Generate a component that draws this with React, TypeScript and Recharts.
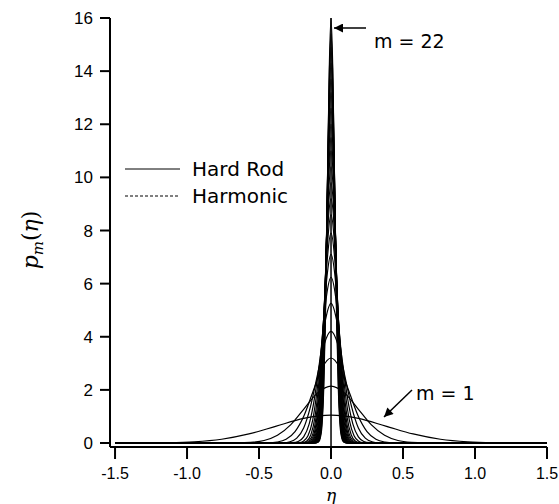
import { LineChart, Line, XAxis, YAxis, ReferenceLine } from 'recharts';

// m values of the curves (hard rod model)
const mValues = [1, 2, 3, 4, 5, 6, 7, 8, 9, 10, 11, 12, 13, 14, 15, 16, 17, 18, 19, 20, 21, 22];

// half profiles (eta >= 0); curves are symmetric about eta = 0
const etaHalf: number[][] = [
  [0, 0.19, 0.38, 0.57, 0.76, 0.95, 1.14, 1.33, 1.5],
  [0, 0.093, 0.186, 0.279, 0.372, 0.465, 0.558, 0.651, 0.837, 1.5],
  [0, 0.062, 0.125, 0.187, 0.25, 0.312, 0.375, 0.437, 0.562, 1.5],
  [0, 0.048, 0.095, 0.143, 0.19, 0.238, 0.285, 0.333, 0.428, 1.5],
  [0, 0.038, 0.076, 0.114, 0.152, 0.19, 0.228, 0.266, 0.342, 1.5],
  [0, 0.032, 0.064, 0.096, 0.128, 0.16, 0.192, 0.224, 0.288, 1.5],
  [0, 0.028, 0.056, 0.084, 0.112, 0.14, 0.168, 0.196, 0.252, 1.5],
  [0, 0.025, 0.05, 0.076, 0.101, 0.126, 0.152, 0.177, 0.227, 1.5],
  [0, 0.023, 0.046, 0.07, 0.093, 0.116, 0.139, 0.162, 0.209, 1.5],
  [0, 0.022, 0.043, 0.065, 0.087, 0.109, 0.13, 0.152, 0.195, 1.5],
  [0, 0.02, 0.041, 0.061, 0.081, 0.102, 0.122, 0.142, 0.183, 1.5],
  [0, 0.019, 0.038, 0.058, 0.077, 0.096, 0.115, 0.134, 0.173, 1.5],
  [0, 0.018, 0.036, 0.054, 0.073, 0.091, 0.109, 0.127, 0.163, 1.5],
  [0, 0.017, 0.035, 0.052, 0.069, 0.087, 0.104, 0.121, 0.156, 1.5],
  [0, 0.017, 0.033, 0.05, 0.066, 0.083, 0.1, 0.116, 0.149, 1.5],
  [0, 0.016, 0.032, 0.048, 0.063, 0.079, 0.095, 0.111, 0.143, 1.5],
  [0, 0.015, 0.03, 0.045, 0.06, 0.076, 0.091, 0.106, 0.136, 1.5],
  [0, 0.015, 0.029, 0.044, 0.058, 0.073, 0.087, 0.102, 0.131, 1.5],
  [0, 0.014, 0.028, 0.042, 0.056, 0.07, 0.084, 0.098, 0.126, 1.5],
  [0, 0.013, 0.027, 0.04, 0.054, 0.067, 0.08, 0.094, 0.121, 1.5],
  [0, 0.013, 0.026, 0.039, 0.052, 0.065, 0.078, 0.091, 0.117, 1.5],
  [0, 0.012, 0.025, 0.037, 0.05, 0.062, 0.075, 0.087, 0.112, 1.5],
];

const pHalf: number[][] = [
  [1.05, 0.927, 0.637, 0.341, 0.142, 0.046, 0.012, 0.002, 0],
  [2.14, 1.889, 1.298, 0.695, 0.29, 0.094, 0.024, 0.005, 0, 0],
  [3.2, 2.824, 1.941, 1.039, 0.433, 0.14, 0.036, 0.007, 0, 0],
  [4.2, 3.707, 2.547, 1.364, 0.568, 0.184, 0.047, 0.009, 0, 0],
  [5.26, 4.642, 3.19, 1.708, 0.712, 0.231, 0.058, 0.012, 0, 0],
  [6.24, 5.507, 3.785, 2.026, 0.844, 0.274, 0.069, 0.014, 0, 0],
  [7.1, 6.266, 4.306, 2.305, 0.961, 0.312, 0.079, 0.016, 0, 0],
  [7.9, 6.972, 4.791, 2.565, 1.069, 0.347, 0.088, 0.017, 0, 0],
  [8.6, 7.59, 5.216, 2.792, 1.164, 0.378, 0.095, 0.019, 0, 0],
  [9.2, 8.119, 5.58, 2.987, 1.245, 0.404, 0.102, 0.02, 0, 0],
  [9.8, 8.649, 5.944, 3.182, 1.326, 0.43, 0.109, 0.022, 0, 0],
  [10.4, 9.178, 6.308, 3.377, 1.407, 0.457, 0.115, 0.023, 0, 0],
  [11.0, 9.708, 6.672, 3.572, 1.488, 0.483, 0.122, 0.024, 0, 0],
  [11.5, 10.149, 6.975, 3.734, 1.556, 0.505, 0.128, 0.025, 0, 0],
  [12.0, 10.59, 7.278, 3.896, 1.624, 0.527, 0.133, 0.026, 0, 0],
  [12.6, 11.12, 7.642, 4.091, 1.705, 0.553, 0.14, 0.028, 0, 0],
  [13.2, 11.649, 8.006, 4.286, 1.786, 0.579, 0.147, 0.029, 0, 0],
  [13.7, 12.09, 8.309, 4.448, 1.854, 0.601, 0.152, 0.03, 0, 0],
  [14.3, 12.62, 8.673, 4.643, 1.935, 0.628, 0.159, 0.031, 0, 0],
  [14.9, 13.149, 9.037, 4.838, 2.016, 0.654, 0.165, 0.033, 0, 0],
  [15.4, 13.591, 9.34, 5.0, 2.084, 0.676, 0.171, 0.034, 0, 0],
  [16.0, 14.12, 9.704, 5.195, 2.165, 0.702, 0.178, 0.035, 0, 0],
];

const xTicks = [-1.5, -1.0, -0.5, 0.0, 0.5, 1.0, 1.5];
const yTicks = [0, 2, 4, 6, 8, 10, 12, 14, 16];

// mirror each half profile into a full curve
const curves = mValues.map((m, i) => {
  const right = etaHalf[i].map((eta, j) => ({ eta, p: pHalf[i][j] }));
  const left = right
    .slice(1)
    .reverse()
    .map((d) => ({ eta: -d.eta, p: d.p }));
  return { m, data: [...left, ...right] };
});

const font = '"Liberation Sans", Arial, sans-serif';
const wideFont = '"DejaVu Sans", sans-serif';
const W = 559;
const H = 504;

export default function App() {
  // pinned to the page corner so chart pixels equal page pixels
  return (
    <div style={{ position: 'absolute', left: 0, top: 0, width: W, height: H }}>
      <LineChart width={W} height={H} margin={{ top: 18, right: 12, bottom: 0, left: 0 }}>
        <XAxis
          type="number"
          dataKey="eta"
          domain={[-1.535, 1.5]}
          ticks={xTicks}
          allowDataOverflow
          tickFormatter={(v: number) => v.toFixed(1)}
          height={57}
          tickSize={12}
          tickMargin={9}
          axisLine={{ stroke: '#000', strokeWidth: 2 }}
          tickLine={{ stroke: '#000', strokeWidth: 2 }}
          tick={{ fill: '#000', fontSize: 16, fontFamily: font }}
        />
        <YAxis
          type="number"
          domain={[-0.15, 16]}
          ticks={yTicks}
          allowDataOverflow
          width={110}
          tickSize={10}
          tickMargin={7}
          axisLine={{ stroke: '#000', strokeWidth: 2 }}
          tickLine={{ stroke: '#000', strokeWidth: 2 }}
          tick={{ fill: '#000', fontSize: 17, fontFamily: font }}
        />
        <ReferenceLine x={0} stroke="#000" strokeWidth={1.5} />
        {curves.map((c) => (
          <Line
            key={c.m}
            data={c.data}
            dataKey="p"
            type="monotone"
            stroke="#000"
            strokeWidth={1.2}
            dot={false}
            isAnimationActive={false}
          />
        ))}
      </LineChart>
      <svg width={W} height={H} style={{ position: 'absolute', left: 0, top: 0, pointerEvents: 'none' }}>
        <defs>
          <marker id="arrowHead" viewBox="0 0 10 10" refX="10" refY="5" markerWidth="15" markerHeight="9" orient="auto" markerUnits="userSpaceOnUse">
            <path d="M0,0 L10,5 L0,10 z" fill="#000" />
          </marker>
        </defs>
        {/* legend */}
        <line x1={125} y1={169} x2={180} y2={169} stroke="#000" strokeWidth={1} />
        <line x1={125} y1={196} x2={180} y2={196} stroke="#000" strokeWidth={1} strokeDasharray="3 2" />
        <text x={192} y={176} fontSize={20} fontFamily={wideFont} fill="#000">Hard Rod</text>
        <text x={192} y={203} fontSize={20} fontFamily={wideFont} fill="#000">Harmonic</text>
        {/* annotations */}
        <line x1={366} y1={28} x2={334} y2={28} stroke="#000" strokeWidth={1.5} markerEnd="url(#arrowHead)" />
        <text x={374} y={48} fontSize={19} fontFamily={wideFont} fill="#000">m = 22</text>
        <line x1={412} y1={390} x2={384} y2={417} stroke="#000" strokeWidth={1.5} markerEnd="url(#arrowHead)" />
        <text x={416} y={400} fontSize={19} fontFamily={wideFont} fill="#000">m = 1</text>
        {/* axis titles */}
        <text
          transform="translate(38,240) rotate(-90)"
          textAnchor="middle"
          fontSize={22}
          fontFamily='"DejaVu Serif", "Liberation Serif", serif'
          fill="#000"
        >
          <tspan fontStyle="italic">p</tspan>
          <tspan fontStyle="italic" fontSize={15} dy={5}>m</tspan>
          <tspan dy={-5}>(</tspan>
          <tspan fontStyle="italic">η</tspan>
          <tspan>)</tspan>
        </text>
        <text
          x={331}
          y={501}
          textAnchor="middle"
          fontSize={17}
          fontStyle="italic"
          fontFamily='"DejaVu Serif", "Liberation Serif", serif'
          fill="#000"
        >
          η
        </text>
      </svg>
    </div>
  );
}
